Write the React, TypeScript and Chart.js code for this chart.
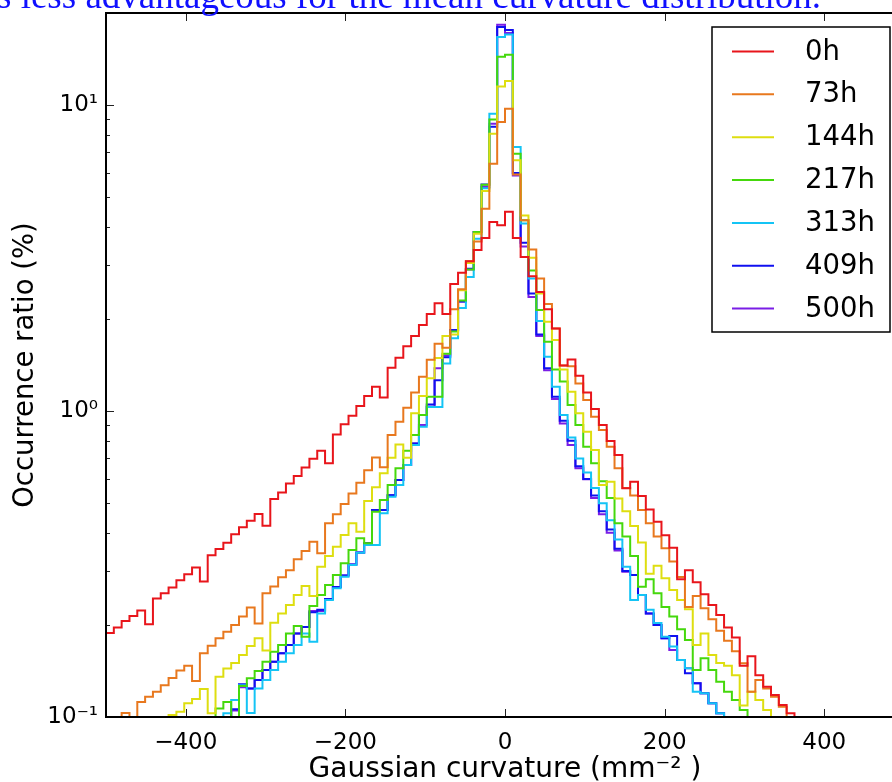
import React, { useEffect, useRef } from "react";
import { Chart, registerables } from "chart.js";

Chart.register(...registerables);

// Histogram bins (x categories): 102 equal bins over [-500, 500]
const BIN_MIN = -500;
const BIN_MAX = 500;
const BIN_COUNT = 102;

const SERIES_LABELS = ["0h", "73h", "144h", "217h", "313h", "409h", "500h"];
const SERIES_COLORS = ["#e8151b", "#e8781e", "#dede10", "#45d80c", "#14c4f5", "#1010f0", "#7a1ee6"];

const H_0H = [
  0.188, 0.196, 0.206, 0.214, 0.223, 0.201, 0.244, 0.254, 0.265, 0.28,
  0.293, 0.308, 0.277, 0.338, 0.354, 0.371, 0.396, 0.417, 0.438, 0.461,
  0.422, 0.516, 0.542, 0.58, 0.613, 0.654, 0.698, 0.742, 0.675, 0.839,
  0.905, 0.965, 1.038, 1.12, 1.2, 1.108, 1.385, 1.494, 1.63, 1.76,
  1.91, 2.075, 2.25, 2.075, 2.6, 2.83, 3.09, 3.36, 3.68, 4.15,
  4.05, 4.48, 3.68, 3.19, 2.76, 2.45, 2.15, 1.86, 1.41, 1.475,
  1.305, 1.15, 1.015, 0.9, 0.798, 0.718, 0.559, 0.5875, 0.528, 0.477,
  0.435, 0.393, 0.3575, 0.282, 0.302, 0.2755, 0.2518, 0.2323, 0.2155, 0.196,
  0.182, 0.147, 0.158, 0.137, 0.1256, 0.118, 0.1094, 0.1028, 0.094, 0.088,
  0.082, 0.076, 0.071, 0.066, 0.061, 0.057, 0.053, 0.049, 0.046, 0.043,
  0.04, 0.037,
];
const H_73H = [
  0.088, 0.094, 0.103, 0.097, 0.112, 0.1165, 0.121, 0.127, 0.134, 0.142,
  0.147, 0.131, 0.1615, 0.171, 0.181, 0.19, 0.2, 0.213, 0.228, 0.202,
  0.254, 0.267, 0.286, 0.302, 0.3275, 0.349, 0.374, 0.343, 0.43, 0.46,
  0.497, 0.538, 0.583, 0.641, 0.705, 0.655, 0.835, 0.923, 1.025, 1.15,
  1.295, 1.47, 1.66, 1.61, 2.15, 2.5, 3.09, 3.58, 4.58, 6.43,
  8.8, 9.73, 5.93, 4.2, 3.37, 2.71, 2.24, 1.86, 1.41, 1.4,
  1.23, 1.086, 0.958, 0.867, 0.764, 0.65, 0.56, 0.53, 0.475, 0.43,
  0.389, 0.356, 0.322, 0.287, 0.229, 0.2485, 0.2266, 0.2086, 0.1915, 0.1776,
  0.164, 0.1498, 0.121, 0.132, 0.124, 0.1165, 0.108, 0.095, 0.088, 0.082,
  0.076, 0.07, 0.065, 0.06, 0.056, 0.052, 0.048, 0.045, 0.042, 0.039,
  0.036, 0.034,
];
const H_144H = [
  0.06, 0.064, 0.068, 0.072, 0.077, 0.082, 0.088, 0.094, 0.1015, 0.104,
  0.111, 0.1145, 0.1235, 0.1028, 0.1355, 0.144, 0.15, 0.1595, 0.1706, 0.181,
  0.165, 0.2034, 0.218, 0.2323, 0.2504, 0.268, 0.2485, 0.31, 0.336, 0.36,
  0.3935, 0.4295, 0.403, 0.508, 0.564, 0.626, 0.704, 0.778, 0.704, 0.983,
  1.12, 1.28, 1.49, 1.76, 1.78, 2.48, 3.05, 3.8, 5.24, 8.06,
  11.5, 11.98, 6.6, 4.36, 3.17, 2.42, 1.96, 1.706, 1.368, 1.156,
  0.983, 0.856, 0.746, 0.573, 0.5875, 0.518, 0.47, 0.421, 0.372, 0.294,
  0.312, 0.284, 0.26, 0.241, 0.225, 0.172, 0.1876, 0.1595, 0.15, 0.147,
  0.137, 0.109, 0.121, 0.1137, 0.1054, 0.095, 0.088, 0.082, 0.076, 0.07,
  0.065, 0.06, 0.056, 0.052, 0.048, 0.045, 0.042, 0.039, 0.036, 0.034,
  0.032, 0.03,
];
const H_217H = [
  0.05, 0.052, 0.055, 0.058, 0.06, 0.063, 0.066, 0.07, 0.073, 0.077,
  0.08, 0.085, 0.09, 0.095, 0.1067, 0.112, 0.098, 0.1263, 0.1338, 0.1413,
  0.1517, 0.1634, 0.1718, 0.1876, 0.1983, 0.183, 0.2305, 0.2504, 0.27, 0.291,
  0.318, 0.3515, 0.3837, 0.3694, 0.469, 0.512, 0.573, 0.65, 0.742, 0.835,
  0.97, 1.114, 1.114, 1.54, 1.82, 2.3, 2.9, 3.85, 5.49, 8.98,
  14.4, 14.6, 6.93, 4.2, 2.88, 2.14, 1.685, 1.368, 1.25, 1.046,
  0.9, 0.764, 0.675, 0.59, 0.52, 0.43, 0.389, 0.336, 0.2666, 0.282,
  0.2536, 0.229, 0.213, 0.1934, 0.1786, 0.1425, 0.1555, 0.1425, 0.1304, 0.121,
  0.1137, 0.1054, 0.095, 0.088, 0.082, 0.076, 0.07, 0.065, 0.06, 0.056,
  0.052, 0.048, 0.045, 0.042, 0.039, 0.036, 0.034, 0.032, 0.03, 0.028,
  0.026, 0.025,
];
const H_313H = [
  0.045, 0.047, 0.05, 0.052, 0.055, 0.058, 0.06, 0.063, 0.066, 0.07,
  0.074, 0.078, 0.083, 0.088, 0.094, 0.1028, 0.1137, 0.127, 0.103, 0.124,
  0.132, 0.1425, 0.1517, 0.1615, 0.1718, 0.1876, 0.1763, 0.218, 0.241, 0.2635,
  0.2873, 0.314, 0.344, 0.365, 0.365, 0.463, 0.525, 0.573, 0.666, 0.774,
  0.889, 1.03, 1.03, 1.43, 1.73, 2.17, 2.74, 3.66, 5.35, 9.37,
  16.7, 17.0, 7.29, 4.1, 2.71, 1.97, 1.505, 1.2, 0.97, 0.82,
  0.7, 0.63, 0.56, 0.5, 0.44, 0.38, 0.31, 0.241, 0.2504, 0.224,
  0.203, 0.183, 0.17, 0.1536, 0.1443, 0.121, 0.1195, 0.111, 0.1028, 0.094,
  0.088, 0.082, 0.076, 0.07, 0.065, 0.06, 0.056, 0.052, 0.048, 0.045,
  0.042, 0.039, 0.036, 0.034, 0.032, 0.03, 0.028, 0.026, 0.025, 0.024,
  0.023, 0.022,
];
const H_409H = [
  0.044, 0.046, 0.049, 0.051, 0.054, 0.057, 0.06, 0.063, 0.066, 0.07,
  0.074, 0.078, 0.083, 0.088, 0.093, 0.098, 0.106, 0.128, 0.124, 0.132,
  0.1425, 0.1517, 0.1615, 0.1718, 0.1876, 0.197, 0.22, 0.224, 0.243, 0.266,
  0.29, 0.315, 0.345, 0.37, 0.475, 0.475, 0.531, 0.595, 0.666, 0.784,
  0.97, 1.05, 1.26, 1.5, 1.84, 2.28, 2.92, 3.85, 5.5, 8.5,
  18.0, 17.6, 6.0, 3.55, 2.42, 1.78, 1.38, 1.114, 0.93, 0.8,
  0.66, 0.6, 0.53, 0.47, 0.41, 0.355, 0.3, 0.291, 0.2504, 0.218,
  0.2, 0.181, 0.184, 0.1536, 0.139, 0.129, 0.1195, 0.111, 0.1028, 0.093,
  0.087, 0.081, 0.075, 0.07, 0.065, 0.06, 0.056, 0.052, 0.048, 0.045,
  0.042, 0.039, 0.036, 0.034, 0.032, 0.03, 0.028, 0.026, 0.025, 0.024,
  0.023, 0.022,
];
const H_500H = [
  0.044, 0.046, 0.049, 0.051, 0.054, 0.057, 0.06, 0.063, 0.066, 0.07,
  0.074, 0.078, 0.083, 0.088, 0.093, 0.098, 0.105, 0.125, 0.124, 0.132,
  0.1425, 0.1517, 0.1615, 0.1718, 0.1876, 0.197, 0.222, 0.222, 0.243, 0.266,
  0.29, 0.315, 0.345, 0.37, 0.475, 0.475, 0.531, 0.595, 0.666, 0.784,
  0.9, 1.033, 1.38, 1.52, 1.84, 2.28, 2.9, 3.85, 5.4, 8.69,
  18.3, 17.2, 5.89, 3.45, 2.36, 1.76, 1.36, 1.094, 0.911, 0.774,
  0.65, 0.598, 0.52, 0.46, 0.4, 0.35, 0.2985, 0.291, 0.2504, 0.218,
  0.2, 0.181, 0.1656, 0.1536, 0.1443, 0.129, 0.1195, 0.111, 0.1028, 0.093,
  0.087, 0.081, 0.075, 0.07, 0.065, 0.06, 0.056, 0.052, 0.048, 0.045,
  0.042, 0.039, 0.036, 0.034, 0.032, 0.03, 0.028, 0.026, 0.025, 0.024,
  0.023, 0.022,
];

const SERIES_VALUES = [H_0H, H_73H, H_144H, H_217H, H_313H, H_409H, H_500H];

const X_TICKS = [-400, -200, 0, 200, 400];
const Y_TICKS = [0.1, 1, 10];
const Y_TICK_LABELS = ["10⁻¹", "10⁰", "10¹"];
const X_TITLE = "Gaussian curvature (mm⁻² )";
const Y_TITLE = "Occurrence ratio (%)";
const CAPTION = "s less advantageous for the mean curvature distribution.";

const FONT = '"DejaVu Sans", "Noto Sans", sans-serif';

const BIN_EDGES = Array.from({ length: BIN_COUNT + 1 }, (_, i) => BIN_MIN + (i * (BIN_MAX - BIN_MIN)) / BIN_COUNT);

const framePlugin = {
  id: "mplFrame",
  afterDraw(chart: any) {
    const { ctx, chartArea } = chart;
    const { left, right, top, bottom } = chartArea;
    const xs = chart.scales.x;
    const ys = chart.scales.y;
    ctx.save();
    // ticks (pointing inwards)
    ctx.strokeStyle = "#222";
    ctx.lineWidth = 1;
    ctx.beginPath();
    X_TICKS.forEach((v) => {
      const px = Math.round(xs.getPixelForValue(v)) + 0.5;
      ctx.moveTo(px, bottom);
      ctx.lineTo(px, bottom - 8);
      ctx.moveTo(px, top);
      ctx.lineTo(px, top + 8);
    });
    for (let d = -1; d <= 1; d++) {
      for (let m = 1; m <= 9; m++) {
        const v = m * Math.pow(10, d);
        if (v < ys.min || v > ys.max) continue;
        const py = Math.round(ys.getPixelForValue(v)) + 0.5;
        const len = m === 1 ? 8 : 4;
        ctx.moveTo(left, py);
        ctx.lineTo(left + len, py);
        ctx.moveTo(right, py);
        ctx.lineTo(right - len, py);
      }
    }
    ctx.stroke();
    // frame
    ctx.strokeStyle = "#000";
    ctx.lineWidth = 2;
    ctx.strokeRect(left, top, right - left, bottom - top);

    // legend (inside the axes, upper right)
    const bx = left + 606;
    const by = top + 14;
    const bw = 178;
    const bh = 305;
    ctx.fillStyle = "#fff";
    ctx.fillRect(bx, by, bw, bh);
    ctx.lineWidth = 1.5;
    ctx.strokeStyle = "#000";
    ctx.strokeRect(bx, by, bw, bh);
    ctx.font = `27.5px ${FONT}`;
    ctx.textBaseline = "middle";
    ctx.textAlign = "left";
    chart.data.datasets.forEach((ds: any, i: number) => {
      const cy = by + 24.5 + i * 42.85;
      ctx.strokeStyle = ds.borderColor;
      ctx.lineWidth = 2;
      ctx.beginPath();
      ctx.moveTo(bx + 20, cy);
      ctx.lineTo(bx + 62, cy);
      ctx.stroke();
      ctx.fillStyle = "#000";
      ctx.fillText(ds.label, bx + 93, cy + 1);
    });
    ctx.restore();
  },
};

export default function App() {
  const canvasRef = useRef<HTMLCanvasElement | null>(null);

  useEffect(() => {
    if (!canvasRef.current) return;
    const datasets = SERIES_VALUES.map((vals, si) => ({
      label: SERIES_LABELS[si],
      data: BIN_EDGES.map((e, i) => ({ x: e, y: vals[Math.min(i, vals.length - 1)] })),
      borderColor: SERIES_COLORS[si],
      backgroundColor: SERIES_COLORS[si],
      borderWidth: 2,
      stepped: "before" as const,
      pointRadius: 0,
      fill: false,
      borderJoinStyle: "miter" as const,
      borderCapStyle: "butt" as const,
    }));

    const chart = new Chart(canvasRef.current, {
      type: "line",
      data: { datasets },
      options: {
        animation: false,
        responsive: false,
        devicePixelRatio: 1,
        events: [],
        layout: { padding: { left: 0, top: 13, right: 56, bottom: 0 } },
        plugins: { legend: { display: false }, tooltip: { enabled: false } },
        scales: {
          x: {
            type: "linear",
            min: BIN_MIN,
            max: BIN_MAX,
            afterFit: (s: any) => {
              s.height = 67;
              s.paddingLeft = 0;
              s.paddingRight = 0;
            },
            afterBuildTicks: (s: any) => {
              s.ticks = X_TICKS.map((v) => ({ value: v }));
            },
            grid: { display: false, drawTicks: false },
            border: { display: false },
            ticks: {
              color: "#000",
              padding: 15,
              maxRotation: 0,
              autoSkip: false,
              font: { family: FONT, size: 23, lineHeight: 1 },
              callback: (v: any) => (Number(v) < 0 ? "\u2212" + Math.abs(Number(v)) : String(v)),
            },
            title: {
              display: true,
              text: X_TITLE,
              color: "#000",
              font: { family: FONT, size: 28, lineHeight: 1 },
              padding: { top: 0, bottom: 0 },
            },
          },
          y: {
            type: "logarithmic",
            min: 0.1,
            max: 20,
            afterFit: (s: any) => {
              s.width = 106;
              s.paddingTop = 0;
              s.paddingBottom = 0;
            },
            afterBuildTicks: (s: any) => {
              s.ticks = Y_TICKS.map((v) => ({ value: v }));
            },
            grid: { display: false, drawTicks: false },
            border: { display: false },
            ticks: {
              color: "#000",
              padding: 8,
              autoSkip: false,
              font: { family: FONT, size: 23, lineHeight: 1 },
              callback: (_v: any, i: number) => Y_TICK_LABELS[i],
            },
            title: {
              display: true,
              text: Y_TITLE,
              color: "#000",
              font: { family: FONT, size: 27.5, lineHeight: 1 },
              padding: { top: 12, bottom: 0 },
            },
          },
        },
      },
      plugins: [framePlugin],
    });
    return () => chart.destroy();
  }, []);

  return (
    <div
      style={{
        position: "fixed",
        left: 0,
        top: 0,
        width: 892,
        height: 782,
        overflow: "hidden",
        background: "#fff",
      }}
    >
      <canvas ref={canvasRef} width={960} height={784} style={{ position: "absolute", left: 0, top: 0 }} />
      <div
        style={{
          position: "absolute",
          left: -3,
          top: -23,
          fontFamily: '"Liberation Serif", "DejaVu Serif", serif',
          fontSize: 37,
          lineHeight: "37px",
          color: "#1010ff",
          whiteSpace: "nowrap",
        }}
      >
        {CAPTION}
      </div>
    </div>
  );
}
